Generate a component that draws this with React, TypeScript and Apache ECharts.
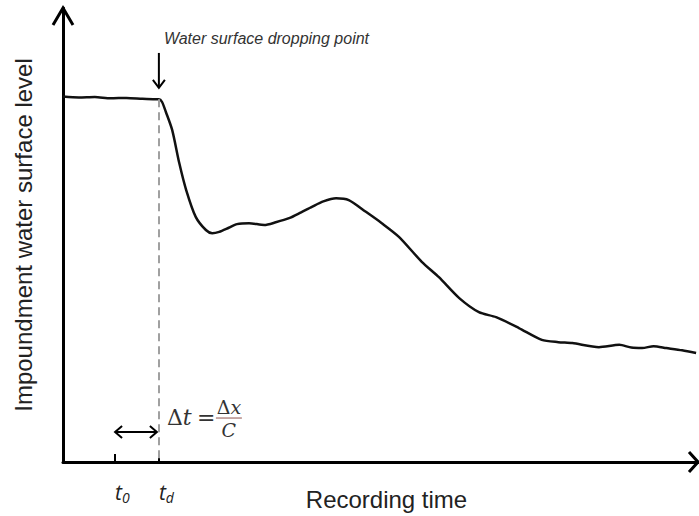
import React, { useEffect, useRef } from "react";
import * as echarts from "echarts";

// Recording time (x) and impoundment water surface level (y), arbitrary units
const TIME = [
  0, 2.5, 5, 7.5, 10, 12.5, 14.5, 15.1, 15.6, 16.2, 17.2, 18.3, 19.4, 20.9, 22.5,
  23.5, 24.6, 26.1, 27.4, 29.3, 31.7, 33.5, 35.6, 37.5, 39.2, 41.0, 43.0, 45.0,
  47.7, 50.2, 52.9, 56.5, 59.2, 62.4, 65.5, 68.2, 71.8, 75.4, 78.0, 80.2, 84.4,
  87.6, 89.5, 91.2, 93.0, 95.0, 97.5, 99.7,
];
const LEVEL = [
  80.5, 80.3, 80.4, 80.1, 80.2, 80.0, 79.9, 79.9, 79.3, 77.1, 73.1, 65.9, 59.9,
  54.0, 51.1, 50.4, 50.7, 51.6, 52.4, 52.6, 52.2, 52.8, 53.7, 55.0, 56.2, 57.4,
  58.1, 57.7, 55.1, 52.6, 49.6, 44.1, 40.7, 36.1, 33.0, 31.9, 29.5, 26.9, 26.4,
  26.2, 25.3, 25.8, 25.2, 25.1, 25.5, 25.1, 24.6, 24.0,
];

const TICK_VALUES = [8.2, 15.1]; // t0, td
const TICK_SUBS = ["0", "d"];
const DROP_LEVEL = 79.9;
const ARROW_Y = 6.6;

export default function App() {
  const ref = useRef<HTMLDivElement>(null);
  useEffect(() => {
    if (!ref.current) return;
    const chart = echarts.init(ref.current, null, { renderer: "svg" });
    const data = TIME.map((t, i) => [t, LEVEL[i]]);
    const [T0, TD] = TICK_VALUES;
    chart.setOption({
      animation: false,
      backgroundColor: "#fff",
      grid: { left: 63, right: 1, top: 8, bottom: 54, containLabel: false, outerBoundsMode: "none" },
      xAxis: {
        type: "value",
        min: 0,
        max: 100,
        axisLine: { show: true, lineStyle: { color: "#000", width: 3 } },
        axisTick: {
          show: true,
          customValues: TICK_VALUES,
          inside: true,
          length: 8,
          lineStyle: { color: "#000", width: 2 },
        },
        axisLabel: {
          show: true,
          customValues: TICK_VALUES,
          margin: 18,
          align: "left",
          formatter: (v: number) => {
            const i = TICK_VALUES.indexOf(v);
            return "{t|t}{s|" + (TICK_SUBS[i] ?? "") + "}";
          },
          rich: {
            t: { fontSize: 21, fontStyle: "italic", fontFamily: "Open Sans", color: "#222" },
            s: { fontSize: 14, fontStyle: "italic", fontFamily: "Open Sans", color: "#222", padding: [10, 0, 0, 0] },
          },
        },
        splitLine: { show: false },
        name: "Recording time",
        nameLocation: "middle",
        nameGap: 25,
        nameMoveOverlap: false,
        nameTextStyle: { fontSize: 24, fontFamily: "Liberation Sans", color: "#222", padding: [0, 0, 0, 12] },
      },
      yAxis: {
        type: "value",
        min: 0,
        max: 100,
        axisLine: { show: true, lineStyle: { color: "#000", width: 3 } },
        axisTick: { show: false },
        axisLabel: { show: false },
        splitLine: { show: false },
        name: "Impoundment water surface level",
        nameLocation: "middle",
        nameGap: 28,
        nameMoveOverlap: false,
        nameTextStyle: { fontSize: 24, fontFamily: "Liberation Sans", color: "#222" },
      },
      series: [
        {
          type: "line",
          data,
          showSymbol: false,
          smooth: 0.25,
          lineStyle: { color: "#111", width: 2.5 },
          markLine: {
            silent: true,
            symbol: "none",
            label: { show: false },
            lineStyle: { color: "#a0a0a0", width: 2, type: [8, 5] },
            data: [[{ coord: [TD, DROP_LEVEL] }, { coord: [TD, 0] }]],
          },
        },
      ],
    });

    const toPx = (p: number[]) => chart.convertToPixel({ gridIndex: 0 }, p) as number[];
    const [ax, ay] = toPx([0, 100]);
    const [bx, by] = toPx([100, 0]);
    const [dx, dTop] = toPx([TD, 90.1]);
    const [, dBot] = toPx([TD, 82.4]);
    const [l0x, lay] = toPx([T0, ARROW_Y]);
    const [l1x] = toPx([TD, ARROW_Y]);
    const stroke = { stroke: "#000", lineWidth: 2, fill: "none" };
    const ffm = "DejaVu Serif";

    chart.setOption({
      graphic: [
        { type: "polyline", shape: { points: [[ax - 10, ay + 17], [ax, ay], [ax + 10, ay + 17]] }, style: { stroke: "#000", lineWidth: 3, fill: "none" } },
        { type: "polyline", shape: { points: [[bx - 9, by - 10], [bx, by], [bx - 9, by + 10]] }, style: { stroke: "#000", lineWidth: 3, fill: "none" } },
        // down arrow to dropping point
        { type: "line", shape: { x1: dx, y1: dTop, x2: dx, y2: dBot }, style: stroke },
        { type: "polyline", shape: { points: [[dx - 6, dBot - 8], [dx, dBot], [dx + 6, dBot - 8]] }, style: stroke },
        {
          type: "text",
          left: dx + 5,
          top: dTop - 22,
          style: { text: "Water surface dropping point", fontSize: 16, fontStyle: "italic", fontFamily: "Liberation Sans", fill: "#333" },
        },
        // double arrow between t0 and td
        { type: "line", shape: { x1: l0x, y1: lay, x2: l1x - 2, y2: lay }, style: stroke },
        { type: "polyline", shape: { points: [[l0x + 7, lay - 6], [l0x, lay], [l0x + 7, lay + 6]] }, style: stroke },
        { type: "polyline", shape: { points: [[l1x - 9, lay - 6], [l1x - 2, lay], [l1x - 9, lay + 6]] }, style: stroke },
        // formula  Δt = Δx / C
        {
          type: "text",
          x: l1x + 8,
          y: lay - 15,
          style: {
            text: "{d|Δ}{i|t}",
            verticalAlign: "middle",
            rich: {
              d: { fontSize: 22, fontFamily: ffm, fill: "#333" },
              i: { fontSize: 22, fontFamily: ffm, fontStyle: "italic", fill: "#333" },
            },
          },
        },
        { type: "text", x: l1x + 38, y: lay - 15, style: { text: "=", fontSize: 22, fontFamily: ffm, fill: "#333", verticalAlign: "middle" } },
        { type: "line", shape: { x1: l1x + 57, y1: lay - 14, x2: l1x + 83, y2: lay - 14 }, style: { stroke: "#b48c88", lineWidth: 1.5 } },
        {
          type: "text",
          x: l1x + 70,
          y: lay - 25,
          style: {
            text: "{d|Δ}{i|x}",
            align: "center",
            verticalAlign: "middle",
            rich: {
              d: { fontSize: 19, fontFamily: ffm, fill: "#333" },
              i: { fontSize: 19, fontFamily: ffm, fontStyle: "italic", fill: "#333" },
            },
          },
        },
        { type: "text", x: l1x + 70, y: lay - 2, style: { text: "C", align: "center", verticalAlign: "middle", fontSize: 19, fontFamily: ffm, fontStyle: "italic", fill: "#333" } },
      ],
    });

    return () => chart.dispose();
  }, []);
  return <div ref={ref} style={{ width: 699, height: 516, position: "absolute", left: 0, top: 0 }} />;
}
